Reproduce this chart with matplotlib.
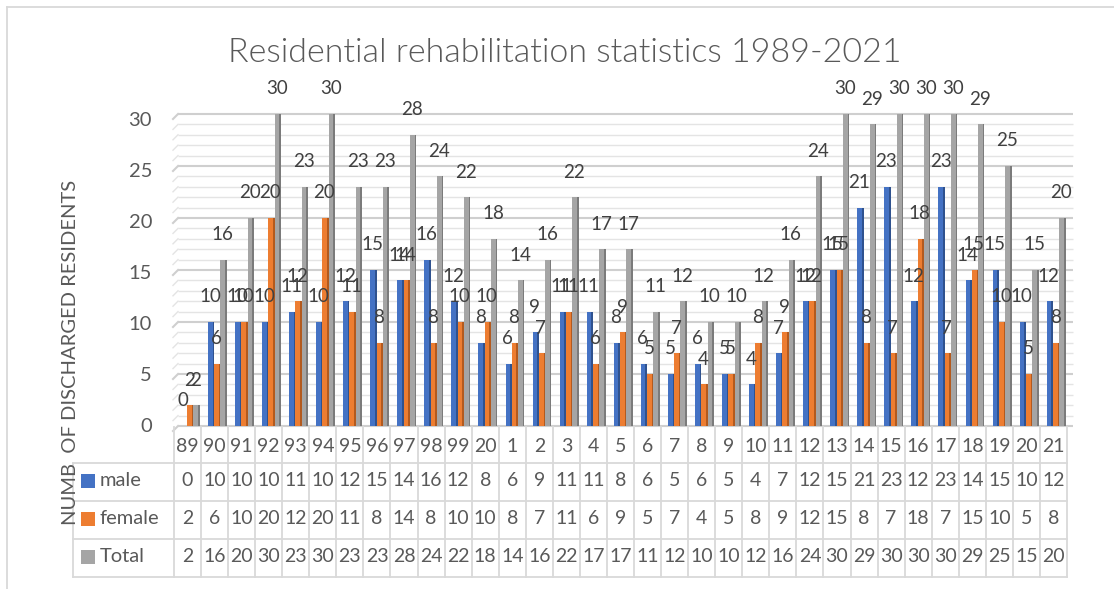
import matplotlib
matplotlib.use('Agg')
import numpy as np
import matplotlib.pyplot as plt
from matplotlib.lines import Line2D
from matplotlib.patches import Rectangle
import matplotlib.transforms as mtransforms

# ---------------- data ----------------
categories = ['89', '90', '91', '92', '93', '94', '95', '96', '97', '98', '99', '20',
              '1', '2', '3', '4', '5', '6', '7', '8', '9', '10', '11', '12', '13',
              '14', '15', '16', '17', '18', '19', '20', '21']
male = [0, 10, 10, 10, 11, 10, 12, 15, 14, 16, 12, 8, 6, 9, 11, 11, 8, 6, 5, 6, 5, 4,
        7, 12, 15, 21, 23, 12, 23, 14, 15, 10, 12]
female = [2, 6, 10, 20, 12, 20, 11, 8, 14, 8, 10, 10, 8, 7, 11, 6, 9, 5, 7, 4, 5, 8,
          9, 12, 15, 8, 7, 18, 7, 15, 10, 5, 8]
total = [2, 16, 20, 30, 23, 30, 23, 23, 28, 24, 22, 18, 14, 16, 22, 17, 17, 11, 12, 10,
         10, 12, 16, 24, 30, 29, 30, 30, 30, 29, 25, 15, 20]
series_names = ['male', 'female', 'Total']
yticks = [0, 5, 10, 15, 20, 25, 30]
title_text = 'Residential rehabilitation statistics 1989-2021'
ylabel_text = 'NUMB  OF DISCHARGED RESIDENTS'

# ---------------- style ----------------
plt.rcParams['font.family'] = ['Lato', 'DejaVu Sans']
W, H = 1114, 589
DPI = 100
TXT = '#595959'
LBL = '#404040'
LC = '#D9D9D9'
colors = ['#4472C4', '#ED7D31', '#A5A5A5']
dark = ['#2F528F', '#B35A1E', '#7B7B7B']


def fx(px):
    return px / W


def fy(py):
    return 1 - py / H


fig = plt.figure(figsize=(W / DPI, H / DPI), dpi=DPI)
fig.patch.set_facecolor('white')

ax = fig.add_axes([fx(174), fy(426), fx(1067) - fx(174), fy(114) - fy(426)])
ax.set_xlim(-0.5, len(categories) - 0.5)
ax.set_ylim(0, 30)
ax.set_axis_off()

ppx = (1067 - 174) / len(categories)   # pixels per category
ppy = (426 - 114) / 30.0               # pixels per unit

# gridlines (minor every 1, major every 5)
for v in range(0, 31):
    major = (v % 5 == 0)
    col = '#CFCFCF' if major else '#E4E4E4'
    lw = 1.5 if major else 1.0
    ax.hlines(v, -0.5 + 4 / ppx, len(categories) - 0.5 + 6 / ppx, colors=col,
              linewidth=lw, zorder=1, clip_on=False)
    yp = 426 - v * ppy
    fig.add_artist(Line2D([fx(173), fx(178)], [fy(yp + 5), fy(yp)], color=col,
                          linewidth=lw, zorder=1))

# bars
x = np.arange(len(categories))
w = 0.233
offs = [-0.133, 0.100, 0.333]
for k, vals in enumerate([male, female, total]):
    ax.bar(x + offs[k], vals, w, color=colors[k], linewidth=0, zorder=3)
    ax.bar(x + offs[k] + w / 2 - 0.03, vals, 0.06, color=dark[k], linewidth=0, zorder=3.1)
for k, vals in enumerate([male, female, total]):
    for i, v in enumerate(vals):
        ax.annotate(str(v), (x[i] + offs[k], v), xytext=(-0.8, 18),
                    textcoords='offset points', ha='center', va='center',
                    fontsize=13.5, color=LBL, zorder=6, annotation_clip=False)

# y tick labels
for v in yticks:
    tr = ax.transData + mtransforms.ScaledTranslation(-22 / DPI, -(1 + 0.17 * v) / DPI,
                                                      fig.dpi_scale_trans)
    ax.text(-0.5, v, str(v), transform=tr, ha='right', va='center', fontsize=14.5,
            color=TXT, clip_on=False)

# data table
blend = mtransforms.blended_transform_factory(ax.transData, fig.transFigure)
for i in range(len(categories) + 1):
    fig.add_artist(Line2D([i - 0.5, i - 0.5], [fy(427), fy(577)], transform=blend,
                          color=LC, linewidth=1.3))
for yp in [463, 501, 539, 577]:
    fig.add_artist(Line2D([fx(73), fx(1067)], [fy(yp), fy(yp)], color=LC, linewidth=1.3))
fig.add_artist(Line2D([fx(73), fx(73)], [fy(463), fy(577)], color=LC, linewidth=1.3))

for i, c in enumerate(categories):
    ax.text(i, fy(447), c, transform=blend, ha='center', va='center', fontsize=14,
            color=TXT, clip_on=False)

row_centers = [481, 519, 557]
for r, vals in enumerate([male, female, total]):
    for i, v in enumerate(vals):
        ax.text(i, fy(row_centers[r]), str(v), transform=blend, ha='center',
                va='center', fontsize=14, color=TXT, clip_on=False)
    fig.add_artist(Rectangle((fx(81), fy(row_centers[r] + 7)), 14 / W, 14 / H,
                             transform=fig.transFigure, color=colors[r], linewidth=0))
    fig.text(fx(100), fy(row_centers[r]), series_names[r], ha='left', va='center',
             fontsize=14.5, color=TXT)

# chart border
fig.add_artist(Line2D([fx(7), fx(7)], [fy(7), 0], color=LC, linewidth=1.3))
fig.add_artist(Line2D([fx(7), 1], [fy(7), fy(7)], color=LC, linewidth=1.3))

# y label
fig.text(fx(70), fy(525), ylabel_text, rotation=90, rotation_mode='anchor', ha='left',
         va='center', fontsize=14.5, color=TXT)

# title, fitted to the reference width
t = fig.text(fx(565), fy(62), title_text, ha='center', va='baseline', fontsize=20,
             color=TXT, fontweight=300)
fig.canvas.draw()
bb = t.get_window_extent(fig.canvas.get_renderer())
t.set_fontsize(20 * 674 / bb.width)

fig.savefig('out.png', dpi=DPI)
